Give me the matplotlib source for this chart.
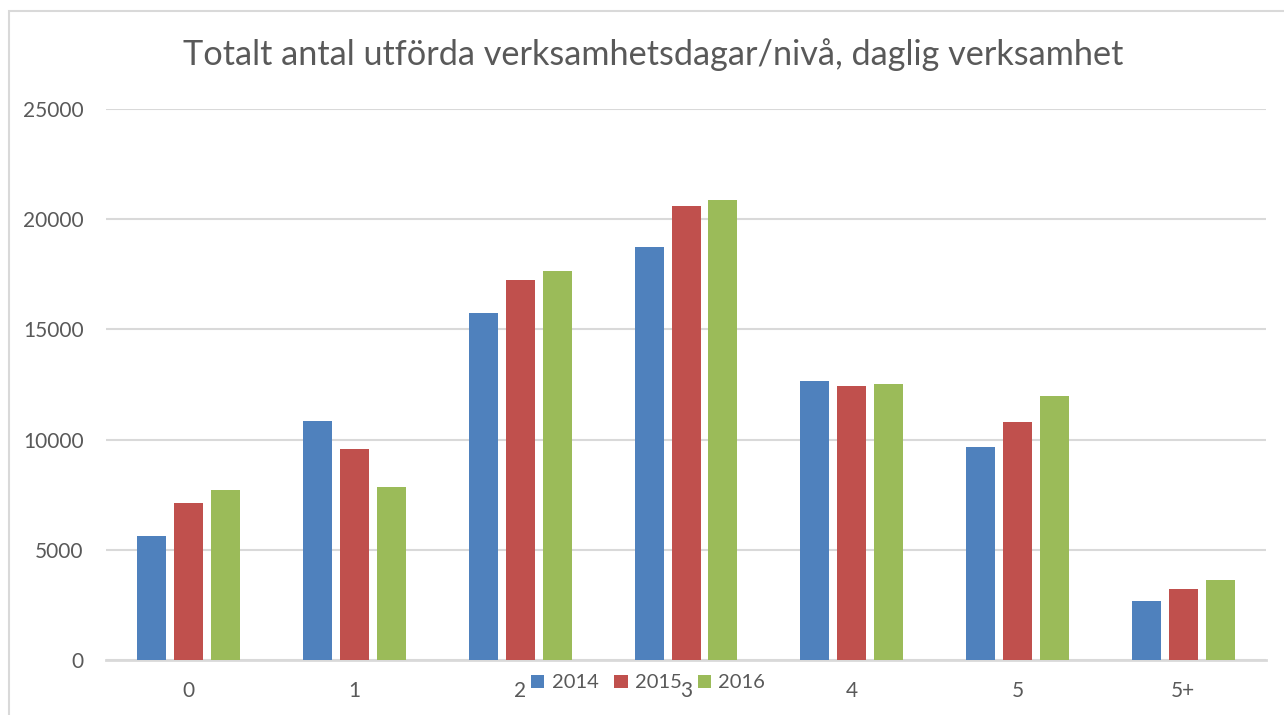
import numpy as np
import matplotlib
matplotlib.use('Agg')
import matplotlib.pyplot as plt
from matplotlib.patches import Rectangle

# data
kategorier = ['0', '1', '2', '3', '4', '5', '5+']
ar = ['2014', '2015', '2016']
v2014 = [5640, 10850, 15740, 18740, 12660, 9670, 2690]
v2015 = [7130, 9580, 17240, 20590, 12430, 10800, 3230]
v2016 = [7720, 7860, 17650, 20870, 12530, 11980, 3640]
farger = ['#4F81BD', '#C0504D', '#9BBB59']

plt.rcParams['font.family'] = ['Lato', 'DejaVu Sans']
textfarg = '#595959'

fig = plt.figure(figsize=(12.84, 7.15), dpi=100)
ax = fig.add_axes([106/1284, 1-660.3/715, 1160/1284, (660.3-108.7)/715])

x = np.arange(len(kategorier))
steg = 0.223
bredd = 0.175
for i, (serie, farg) in enumerate(zip([v2014, v2015, v2016], farger)):
    ax.bar(x + (i-1)*steg, serie, width=bredd, color=farg, label=ar[i], zorder=3)

ax.set_xlim(-0.5, len(kategorier)-0.5)
ax.set_ylim(0, 25000)
ax.set_yticks(range(0, 25001, 5000))
ax.set_xticks(x)
ax.set_xticklabels(kategorier)
ax.yaxis.grid(True, color='#d9d9d9', linewidth=1.5, zorder=0)
ax.set_axisbelow(True)
for s in ['top', 'right', 'left']:
    ax.spines[s].set_visible(False)
ax.spines['bottom'].set_color('#d9d9d9')
ax.spines['bottom'].set_linewidth(2)
ax.tick_params(axis='both', length=0, labelsize=15, labelcolor=textfarg)
ax.tick_params(axis='x', pad=15)
ax.tick_params(axis='y', pad=16)

fig.text(0.509, 1-55/715, 'Totalt antal utförda verksamhetsdagar/nivå, daglig verksamhet',
         ha='center', va='center', fontsize=24.7, color=textfarg)

# legend sits on top of the x labels, as in the reference
leg = fig.legend(loc='center', bbox_to_anchor=(648/1284, 1-683/715), ncol=3, frameon=False,
                 fontsize=14.5, handlelength=0.65, handleheight=0.65, handletextpad=0.35,
                 columnspacing=0.8)
for t in leg.get_texts():
    t.set_color(textfarg)

# chart frame
fig.patches.append(Rectangle((9/1284, -0.1), 1.2, 1-11/715+0.1, transform=fig.transFigure,
                             fill=False, edgecolor='#d9d9d9', linewidth=1.5))

fig.savefig('out.png', dpi=100)
